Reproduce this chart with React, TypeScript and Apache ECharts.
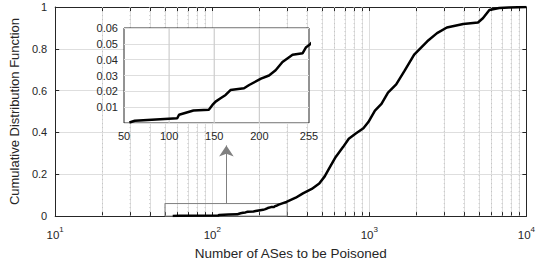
import React, { useEffect, useRef } from "react";
import * as echarts from "echarts";

// Number of ASes to be poisoned (x) and cumulative fraction (y)
const asCount = [56, 62, 109, 111, 127, 144, 148, 151.5, 157, 162.6, 168, 183, 188.7, 201.8, 210.7, 218, 225.6, 236.8, 248, 251.8, 255.5,
  265, 297, 340, 378, 430, 480, 520, 554, 611, 680, 740, 820, 917, 986, 1086, 1195, 1315, 1483, 1671, 1930, 2339, 2700, 3118, 3963, 4920, 5286, 5813, 6714, 7740, 10000];
const cdf = [0.0003, 0.0014, 0.003, 0.0052, 0.0079, 0.0083, 0.0114, 0.0135, 0.0156, 0.0177, 0.0208, 0.0219, 0.024, 0.028, 0.03, 0.0333, 0.0385, 0.0431, 0.0441, 0.0479, 0.0494,
  0.055, 0.068, 0.088, 0.109, 0.13, 0.156, 0.19, 0.227, 0.283, 0.33, 0.37, 0.395, 0.42, 0.45, 0.505, 0.537, 0.591, 0.63, 0.693, 0.772, 0.836, 0.875, 0.902, 0.919, 0.926, 0.946, 0.986, 0.995, 0.998, 1];

const minorGrid = [20, 30, 40, 50, 60, 70, 80, 90, 200, 300, 400, 500, 600, 700, 800, 900, 2000, 3000, 4000, 5000, 6000, 7000, 8000, 9000];
const mainTicks = [10, 20, 30, 40, 50, 60, 70, 80, 90, 100, 200, 300, 400, 500, 600, 700, 800, 900, 1000, 2000, 3000, 4000, 5000, 6000, 7000, 8000, 9000, 10000];
const insetXLabels = [50, 100, 150, 200, 255];
const insetXGrid = [100, 150, 200];
const zoomBox = { x0: 50, x1: 300, y0: 0, y1: 0.06 };
const arrowX = 123;
const arrowY = [0.06, 0.338];

const FONT = "Liberation Sans, Arial, Helvetica, sans-serif";
const TXT = "#262626";
const AX = "#262626";
const GRID = "#dedede";
const INSET_H = 95;

export default function App() {
  const ref = useRef<HTMLDivElement>(null);
  useEffect(() => {
    if (!ref.current) return;
    const chart = echarts.init(ref.current, undefined, { renderer: "svg" });
    const data = asCount.map((x, i) => [x, cdf[i]]);
    const supFmt = (v: number) => `{b|10}{s|${Math.round(Math.log10(v))}}`;

    const minorSeries = minorGrid.map((v) => ({
      type: "line", xAxisIndex: 0, yAxisIndex: 0, showSymbol: false, z: 1,
      data: [[v, 0], [v, 1]],
      lineStyle: { color: "#c2c2c2", width: 1, type: [1, 3] },
    }));
    const insetGridSeries = insetXGrid.map((v) => ({
      type: "line", xAxisIndex: 2, yAxisIndex: 2, showSymbol: false, z: 21,
      data: [[v, 0], [v, 0.06]],
      lineStyle: { color: "#cdcdcd", width: 1.2, type: "solid" },
    }));

    chart.setOption({
      animation: false,
      textStyle: { fontFamily: FONT, color: TXT },
      grid: [
        { left: 49, top: 7, width: 480, height: 211, show: false },
        { left: 124, top: 28, width: 185, height: INSET_H, show: true, backgroundColor: "#ffffff", borderColor: AX, borderWidth: 1, z: 20 },
      ],
      xAxis: [
        {
          type: "log", gridIndex: 0, min: 10, max: 10000, logBase: 10,
          axisLine: { show: true, onZero: false, lineStyle: { color: AX, width: 1 } },
          axisTick: { show: true, inside: true, length: 4, customValues: mainTicks, lineStyle: { color: AX } },
          axisLabel: {
            formatter: supFmt, margin: 9, color: TXT,
            rich: {
              b: { fontSize: 11.5, fontFamily: FONT, color: TXT, lineHeight: 16, verticalAlign: "bottom" },
              s: { fontSize: 8, fontFamily: FONT, color: TXT, lineHeight: 3, verticalAlign: "top" },
            },
          },
          splitLine: { show: true, lineStyle: { color: GRID, width: 1 } },
          minorTick: { show: false }, minorSplitLine: { show: false },
          name: "Number of ASes to be Poisoned", nameLocation: "middle", nameGap: 27,
          nameTextStyle: { fontSize: 13.5, color: TXT, fontFamily: FONT },
        },
        {
          type: "log", gridIndex: 0, position: "top", min: 10, max: 10000, logBase: 10,
          axisLine: { show: true, onZero: false, lineStyle: { color: AX, width: 1 } },
          axisTick: { show: true, inside: true, length: 4, customValues: mainTicks, lineStyle: { color: AX } },
          axisLabel: { show: false }, splitLine: { show: false },
        },
        {
          type: "value", gridIndex: 1, min: 50, max: 255, z: 21,
          axisLine: { show: false },
          axisTick: { show: false },
          axisLabel: {
            customValues: insetXLabels, fontSize: 11, margin: 7, color: TXT,
            showMinLabel: true, showMaxLabel: true, alignMinLabel: "center", alignMaxLabel: "center", hideOverlap: false,
          },
          splitLine: { show: false },
        },
      ],
      yAxis: [
        {
          type: "value", gridIndex: 0, min: 0, max: 1, interval: 0.2,
          axisLine: { show: true, onZero: false, lineStyle: { color: AX, width: 1 } },
          axisTick: { show: true, inside: true, length: 4, lineStyle: { color: AX } },
          axisLabel: { fontSize: 11, margin: 8, color: TXT },
          splitLine: { show: true, lineStyle: { color: GRID, width: 1 } },
          name: "Cumulative Distribution Function", nameLocation: "middle", nameGap: 34,
          nameTextStyle: { fontSize: 13, color: TXT, fontFamily: FONT },
        },
        {
          type: "value", gridIndex: 0, position: "right", min: 0, max: 1, interval: 0.2,
          axisLine: { show: true, onZero: false, lineStyle: { color: AX, width: 1 } },
          axisTick: { show: true, inside: true, length: 4, lineStyle: { color: AX } },
          axisLabel: { show: false }, splitLine: { show: false },
        },
        {
          type: "value", gridIndex: 1, min: 0, max: 0.06, interval: 0.01, z: 21,
          axisLine: { show: false }, axisTick: { show: false },
          axisLabel: { fontSize: 11, margin: 6, color: TXT, formatter: (v: number) => (v === 0 ? "" : v.toFixed(2)) },
          splitLine: { show: true, lineStyle: { color: GRID, width: 1 } },
        },
      ],
      series: [
        ...minorSeries,
        {
          type: "line", xAxisIndex: 0, yAxisIndex: 0, data, showSymbol: false, z: 3,
          lineStyle: { color: "#000000", width: 2.5 },
          markLine: {
            silent: true, z: 2, symbol: ["none", "arrow"], symbolSize: 11, animation: false,
            label: { show: false },
            lineStyle: { color: "#808080", width: 1, type: "solid" },
            itemStyle: { color: "#808080" },
            data: [[{ coord: [arrowX, arrowY[0]] }, { coord: [arrowX, arrowY[1]] }]],
          },
          markArea: {
            silent: true, z: 2,
            itemStyle: { color: "rgba(0,0,0,0)", borderColor: "#808080", borderWidth: 1 },
            label: { show: false },
            data: [[{ coord: [zoomBox.x0, zoomBox.y0] }, { coord: [zoomBox.x1, zoomBox.y1] }]],
          },
        },
        ...insetGridSeries,
        {
          type: "line", xAxisIndex: 2, yAxisIndex: 2, data, showSymbol: false, z: 22, clip: true,
          lineStyle: { color: "#000000", width: 2.5 },
        },
      ],
    });
    return () => chart.dispose();
  }, []);
  return <div ref={ref} style={{ position: "absolute", left: 0, top: 0, width: 538, height: 265 }} />;
}
